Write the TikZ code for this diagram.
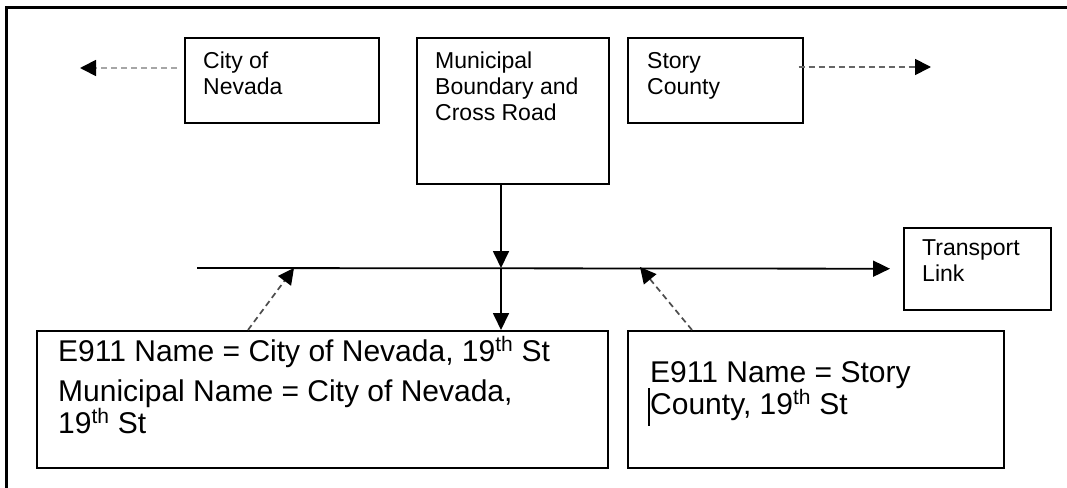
\documentclass[tikz,border=0pt]{standalone}
\usepackage{fontspec}
\setmainfont{Liberation Sans}
\usetikzlibrary{arrows.meta,positioning}

\begin{document}
\begin{tikzpicture}[
    x=1pt, y=-1pt,
    box/.style={rectangle, draw, line width=1.6pt, inner sep=0pt, anchor=north west},
    lbl/.style={inner sep=0pt, align=left, anchor=base west, font=\fontsize{23}{26}\selectfont},
    biglbl/.style={inner sep=0pt, align=left, anchor=base west, font=\fontsize{30}{32}\selectfont},
    arrow/.style={-{Triangle[length=17pt, width=16pt]}, line width=1.8pt},
    dasharrow/.style={-{Triangle[length=16pt, width=16pt, color=black]}, line width=1.7pt, dash pattern=on 6pt off 4pt}
]
    \useasboundingbox (0,0) rectangle (1067,487);
    \draw[line width=3pt] (6,8) rectangle (1110,530);

    % top row
    \node[box, minimum width=194pt, minimum height=85pt] (nevada) at (184,37) {};
    \node[box, minimum width=192pt, minimum height=146pt] (muni) at (416,37) {};
    \node[box, minimum width=175pt, minimum height=85pt] (story) at (627,37) {};
    \node[box, minimum width=147pt, minimum height=82pt] (link) at (903,227) {};

    % base anchor sits on the last line
    \node[lbl] (nevadatxt) at ([shift={(19,57)}]nevada.north west) {City of\\Nevada};
    \node[lbl] (munitxt) at ([shift={(19,83)}]muni.north west) {Municipal\\Boundary and\\Cross Road};
    \node[lbl] (storytxt) at ([shift={(20,57)}]story.north west) {Story\\County};
    \node[lbl] (linktxt) at ([shift={(19,54)}]link.north west) {Transport\\Link};

    % bottom row
    \node[box, minimum width=571pt, minimum height=137pt] (cityname) at (36,330) {};
    \node[box, minimum width=376pt, minimum height=137pt] (storyname) at (627,330) {};

    \node[biglbl] (citynametxt) at ([shift={(22,103)}]cityname.north west)
        {E911 Name = City of Nevada, 19\textsuperscript{th} St\\[8pt]
         Municipal Name = City of Nevada,\\19\textsuperscript{th} St};
    \node[biglbl] (storynametxt) at ([shift={(23,84)}]storyname.north west)
        {E911 Name = Story\\County, 19\textsuperscript{th} St};
    \draw[line width=1.2pt] ([shift={(-1,-26)}]storynametxt.base west) -- ++(0,38);

    % road line and connectors
    \coordinate (linestart) at (197,268);
    \coordinate (junction) at (501,268);
    \coordinate (westend) at (80,68);
    \coordinate (eastend) at (931,67);
    \coordinate (leftjoin) at (294,268);
    \coordinate (rightjoin) at (640,267);

    \draw[arrow, shorten >=13pt] (linestart) -- (link);
    \draw[arrow] (junction |- muni.south) -- (junction);
    \draw[arrow] (junction) -- (junction |- cityname.north);

    \draw[dasharrow, black!35, shorten <=7pt] (westend -| nevada.west) -- (westend);
    \draw[dasharrow, black!60, shorten <=-5pt] (eastend -| story.east) -- (eastend);
    \draw[dasharrow, black!70] ([xshift=212pt]cityname.north west) -- (leftjoin);
    \draw[dasharrow, black!70] ([xshift=65pt]storyname.north west) -- (rightjoin);
\end{tikzpicture}
\end{document}
